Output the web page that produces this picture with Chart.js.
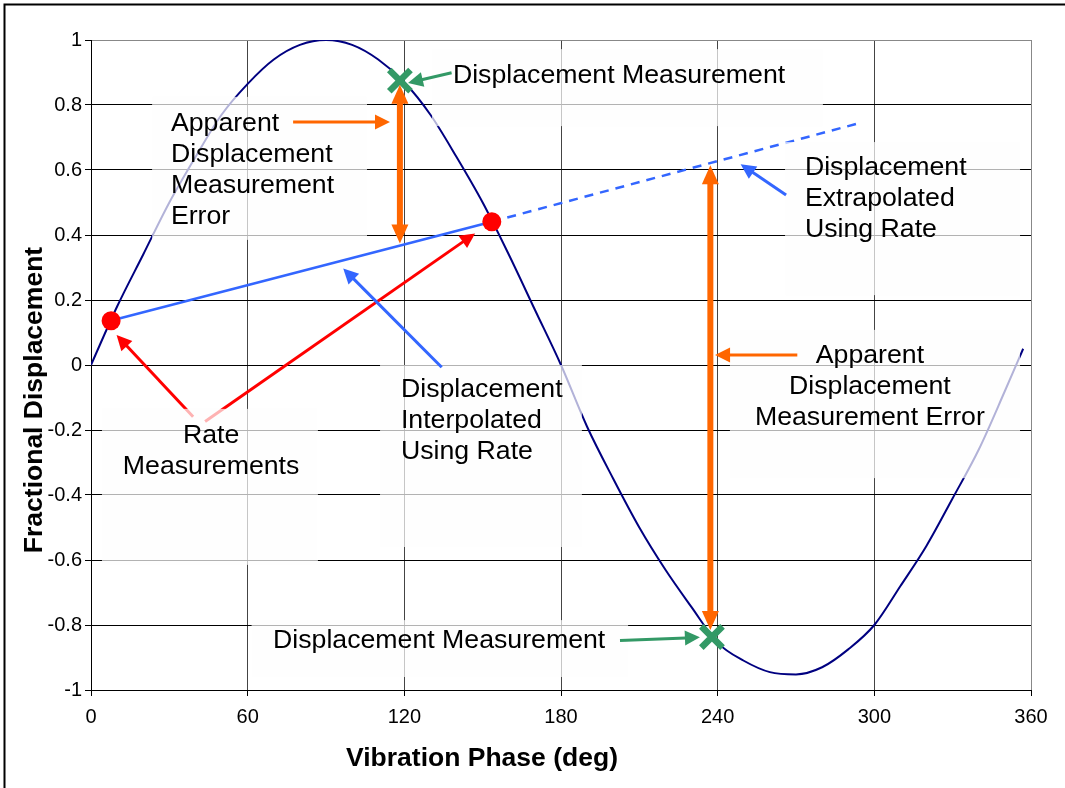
<!DOCTYPE html>
<html><head><meta charset="utf-8">
<script src="https://cdn.jsdelivr.net/npm/chart.js@4.4.0/dist/chart.umd.min.js"></script>
<style>html,body{margin:0;padding:0;background:#fff;}#wrap{width:1065px;height:788px;}</style>
</head><body><div id="wrap"><canvas id="c" width="1065" height="788"></canvas></div>
<script>
// ---- data ----
const phaseDeg = [0,10,20,30,40,50,60,70,80,90,100,110,120,130,140,150,160,170,180,190,200,210,220,230,240,250,260,270,280,290,300,310,320,330,340,350,357];
const displacement = [0,0.18,0.34,0.5,0.64,0.77,0.865,0.94,0.985,1,0.985,0.94,0.87,0.77,0.64,0.5,0.34,0.17,0,-0.19,-0.35,-0.5,-0.63,-0.745,-0.855,-0.91,-0.945,-0.952,-0.93,-0.875,-0.8,-0.68,-0.556,-0.41,-0.26,-0.08,0.05];
const ratePhase = [7.7, 153.5];
const rateValue = [0.136, 0.441];
const measPhase = [118.3, 237.8];
const measValue = [0.875, -0.837];
const interpPhase = [6, 153.5];
const interpValue = [0.133, 0.441];
const extrapPhase = [153.5, 293.2];
const extrapValue = [0.441, 0.742];
const errPhase = [118.3, 237.2];
const errTop = [0.862, 0.615];
const errBottom = [0.374, -0.815];
const xTickLabels = ['0','60','120','180','240','300','360'];
const yTickLabels = ['-1','-0.8','-0.6','-0.4','-0.2','0','0.2','0.4','0.6','0.8','1'];
const xTitle = 'Vibration Phase (deg)';
const yTitle = 'Fractional Displacement';

// ---- annotation layout (data coordinates) ----
const FONT = '"Liberation Sans", Arial, Helvetica, sans-serif';
const pointers = [
  {from:[77.4,0.748], to:[114.5,0.748], color:'#FF6600', top:true},
  {from:[138.1,0.899], to:[121.4,0.868], color:'#339966', top:true},
  {from:[266.2,0.523], to:[248.8,0.618], color:'#3366FF', top:true},
  {from:[134.3,-0.007], to:[96.6,0.297], color:'#3366FF', top:true},
  {from:[39.1,-0.159], to:[9.8,0.092], color:'#FF0000', top:false},
  {from:[43.7,-0.174], to:[147.1,0.405], color:'#FF0000', top:false},
  {from:[202.6,-0.848], to:[233.2,-0.838], color:'#339966', top:true},
  {from:[270.5,0.031], to:[239.0,0.031], color:'#FF6600', top:true}
];
const notes = [
  {box:[130.6,0.972,280.3,0.735], x:138.6, y:0.868, align:'left', lines:['Displacement Measurement']},
  {box:[23.4,0.825,105.7,0.385], x:30.6, y:0.721, align:'left', lines:['Apparent','Displacement','Measurement','Error']},
  {box:[265.8,0.686,355.8,0.215], x:273.4, y:0.585, align:'left', lines:['Displacement','Extrapolated','Using Rate']},
  {box:[244.7,0.108,355.8,-0.348], x:298.3, y:0.005, align:'center', lines:['Apparent','Displacement','Measurement Error']},
  {box:[110.7,0.0,188.0,-0.56], x:118.7, y:-0.0975, align:'left', lines:['Displacement','Interpolated','Using Rate']},
  {box:[4.2,-0.135,86.9,-0.615], x:46, y:-0.241, align:'center', lines:['Rate','Measurements']},
  {box:[61.5,-0.785,205.7,-0.96], x:69.7, y:-0.872, align:'left', lines:['Displacement Measurement']}
];

function arrow(ctx,x1,y1,x2,y2,color,lw,hl,hw){
  const a=Math.atan2(y2-y1,x2-x1), c=Math.cos(a), s=Math.sin(a);
  const bx=x2-hl*c, by=y2-hl*s;
  ctx.strokeStyle=color; ctx.lineWidth=lw; ctx.lineCap='butt';
  ctx.beginPath(); ctx.moveTo(x1,y1); ctx.lineTo(bx+c,by+s); ctx.stroke();
  ctx.fillStyle=color; ctx.beginPath(); ctx.moveTo(x2,y2);
  ctx.lineTo(bx+hw/2*s, by-hw/2*c); ctx.lineTo(bx-hw/2*s, by+hw/2*c); ctx.closePath(); ctx.fill();
}

const annotPlugin = {
  id:'annot',
  afterDatasetsDraw(chart){
    const {ctx, chartArea:a, scales:{x,y}} = chart;
    const X=v=>x.getPixelForValue(v), Y=v=>y.getPixelForValue(v);
    ctx.save();
    ctx.beginPath(); ctx.rect(a.left,a.top,a.right-a.left,a.bottom-a.top); ctx.clip();
    // thick double-headed error arrows
    errPhase.forEach((p,i)=>{
      const px=X(p), yt=Y(errTop[i]), yb=Y(errBottom[i]), hl=19, hw=17;
      ctx.strokeStyle='#FF6600'; ctx.lineWidth=6;
      ctx.beginPath(); ctx.moveTo(px,yt+hl-1); ctx.lineTo(px,yb-hl+1); ctx.stroke();
      ctx.fillStyle='#FF6600';
      ctx.beginPath(); ctx.moveTo(px,yt); ctx.lineTo(px-hw/2,yt+hl); ctx.lineTo(px+hw/2,yt+hl); ctx.closePath(); ctx.fill();
      ctx.beginPath(); ctx.moveTo(px,yb); ctx.lineTo(px-hw/2,yb-hl); ctx.lineTo(px+hw/2,yb-hl); ctx.closePath(); ctx.fill();
    });
    const drawPtr=p=>arrow(ctx,X(p.from[0]),Y(p.from[1]),X(p.to[0]),Y(p.to[1]),p.color,3,15,15);
    pointers.filter(p=>!p.top).forEach(drawPtr);
    // translucent text boxes
    ctx.fillStyle='rgba(254,254,254,0.7)';
    notes.forEach(n=>{
      const x0=X(n.box[0]), y0=Y(n.box[1]), x1=X(n.box[2]), y1=Y(n.box[3]);
      ctx.fillRect(x0,y0,x1-x0,y1-y0);
    });
    pointers.filter(p=>p.top).forEach(drawPtr);
    ctx.fillStyle='#000'; ctx.font='26.7px '+FONT; ctx.textBaseline='alphabetic';
    notes.forEach(n=>{
      ctx.textAlign=n.align;
      n.lines.forEach((t,i)=>ctx.fillText(t, X(n.x), Y(n.y)+i*31));
    });
    ctx.restore();
  },
  afterDraw(chart){
    const {ctx}=chart;
    ctx.save();
    ctx.fillStyle='#000'; ctx.font='bold 26.5px '+FONT; ctx.textBaseline='alphabetic'; ctx.textAlign='center';
    ctx.fillText(xTitle, 482, 766);
    ctx.translate(41.5,400); ctx.rotate(-Math.PI/2); ctx.fillText(yTitle,0,0);
    ctx.restore();
    ctx.save();
    ctx.strokeStyle='#000'; ctx.lineWidth=2;
    ctx.beginPath(); ctx.moveTo(4.5,788); ctx.lineTo(4.5,4.5); ctx.lineTo(1065,4.5); ctx.stroke();
    ctx.restore();
  }
};

const pts=(xs,ys)=>xs.map((v,i)=>({x:v,y:ys[i]}));

new Chart(document.getElementById('c'), {
  type:'line',
  data:{datasets:[
    {data:pts(phaseDeg,displacement), borderColor:'#000080', borderWidth:2, pointRadius:0, cubicInterpolationMode:'monotone', fill:false, order:5},
    {data:pts(interpPhase,interpValue), borderColor:'#3366FF', borderWidth:2.5, pointRadius:0, fill:false, order:4},
    {data:pts(extrapPhase,extrapValue), borderColor:'#3366FF', borderWidth:2.5, borderDash:[9,7], pointRadius:0, fill:false, order:4},
    {data:pts(ratePhase,rateValue), showLine:false, pointRadius:9.5, pointBackgroundColor:'#FF0000', pointBorderColor:'#FF0000', pointBorderWidth:0, order:2},
    {data:pts(measPhase,measValue), showLine:false, pointStyle:'crossRot', pointRadius:15, pointBorderWidth:6.5, pointBorderColor:'#339966', order:1}
  ]},
  options:{
    responsive:false, animation:false, devicePixelRatio:1,
    events:[],
    layout:{padding:{top:40,right:34,left:0,bottom:0}},
    plugins:{legend:{display:false}, tooltip:{enabled:false}},
    scales:{
      x:{type:'linear', min:0, max:360,
        afterFit(s){s.height=98;},
        border:{color:'#000', width:1},
        grid:{color:c=>c.tick&&c.tick.value===360?'#888':'#444', tickColor:'#000', tickLength:6, lineWidth:1},
        ticks:{stepSize:60, padding:9, color:'#000', font:{family:FONT, size:20}, maxRotation:0,
          callback:v=>xTickLabels[Math.round(v/60)]}
      },
      y:{type:'linear', min:-1, max:1,
        afterFit(s){s.width=91;},
        border:{color:'#000', width:1},
        grid:{color:c=>c.tick&&c.tick.value===1?'#888':'#000', tickColor:'#000', tickLength:6, lineWidth:1},
        ticks:{stepSize:0.2, padding:3, color:'#000', font:{family:FONT, size:20},
          callback:v=>yTickLabels[Math.round((v+1)/0.2)]}
      }
    }
  },
  plugins:[annotPlugin]
});
</script></body></html>
